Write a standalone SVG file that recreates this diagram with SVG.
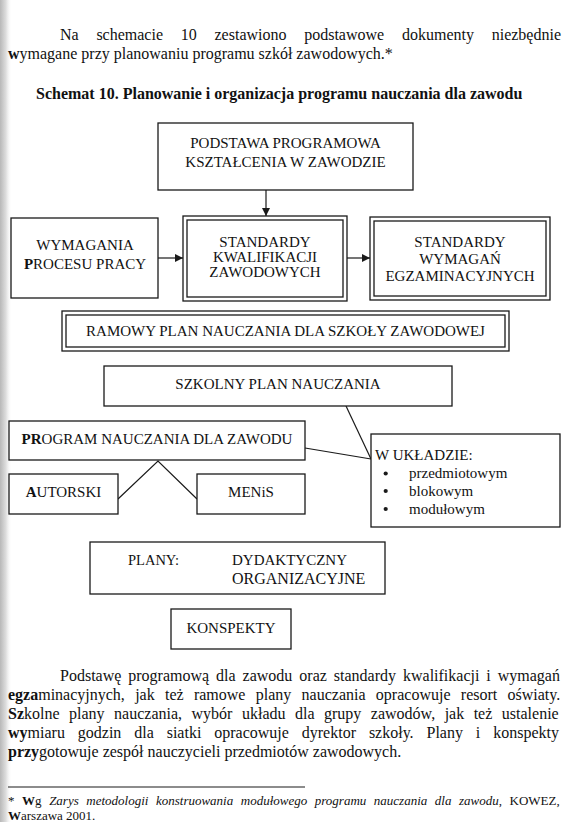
<svg xmlns="http://www.w3.org/2000/svg" width="581" height="822" viewBox="0 0 581 822">
<style>
.t{font-family:"Liberation Serif","Times New Roman",serif;fill:#111111}
.b16{font-size:16px}
.d{font-size:15px}
.c{text-anchor:middle}
.bold{font-weight:bold}
.it{font-style:italic}
.box{fill:#fff;stroke:#1a1a1a;stroke-width:1.3}
.inner{fill:none;stroke:#1a1a1a;stroke-width:1.3}
.ln{stroke:#1a1a1a;stroke-width:1.2;fill:none}
</style>
<defs>
<linearGradient id="edge" x1="0" y1="0" x2="1" y2="0">
<stop offset="0" stop-color="#b8b8b8"/>
<stop offset="0.5" stop-color="#dedede"/>
<stop offset="1" stop-color="#ffffff" stop-opacity="0"/>
</linearGradient>
<marker id="ah" markerUnits="userSpaceOnUse" markerWidth="8" markerHeight="8" refX="8" refY="4" orient="auto">
<path d="M0,0 L8,4 L0,8 z" fill="#1a1a1a"/>
</marker>
</defs>
<rect width="581" height="822" fill="#ffffff"/>
<rect x="0" y="0" width="12" height="822" fill="url(#edge)"/>

<g id="intro" class="t b16">
<text y="40"><tspan x="60">Na</tspan><tspan x="96.4">schemacie</tspan><tspan x="180.8">10</tspan><tspan x="214.5">zestawiono</tspan><tspan x="304.2">podstawowe</tspan><tspan x="402">dokumenty</tspan><tspan x="491.7">niezbędnie</tspan></text>
<text x="8" y="59"><tspan class="bold">w</tspan>ymagane przy planowaniu programu szkół zawodowych.*</text>
<text x="36" y="99" class="bold">Schemat 10. Planowanie i organizacja programu nauczania dla zawodu</text>
</g>

<g id="connectors">
<line class="ln" x1="266" y1="190" x2="266" y2="216" marker-end="url(#ah)"/>
<line class="ln" x1="158" y1="258" x2="183" y2="258" marker-end="url(#ah)"/>
<line class="ln" x1="347" y1="258" x2="370" y2="258" marker-end="url(#ah)"/>
<polyline class="ln" points="118,499 158,461 197,499"/>
<line class="ln" x1="346" y1="406" x2="371" y2="459"/>
<line class="ln" x1="305" y1="448" x2="371" y2="459"/>
</g>

<g id="podstawa">
<rect class="box" x="158" y="123" width="255" height="67"/>
<text class="t d c" x="285.5" y="148">PODSTAWA PROGRAMOWA</text>
<text class="t d c" x="285.5" y="167">KSZTAŁCENIA W ZAWODZIE</text>
</g>

<g id="wymagania">
<rect class="box" x="11" y="218" width="147" height="80"/>
<text class="t d c" x="85" y="250">WYMAGANIA</text>
<text class="t d c" x="85" y="269"><tspan class="bold">P</tspan>ROCESU PRACY</text>
</g>

<g id="standardy-kwalifikacji">
<rect class="box" x="183" y="216" width="164" height="85"/>
<rect class="inner" x="187" y="220" width="156" height="77"/>
<text class="t d c" x="265" y="247">STANDARDY</text>
<text class="t d c" x="265" y="262">KWALIFIKACJI</text>
<text class="t d c" x="265" y="277">ZAWODOWYCH</text>
</g>

<g id="standardy-wymagan">
<rect class="box" x="370" y="217" width="180" height="83"/>
<rect class="inner" x="374" y="221" width="172" height="75"/>
<text class="t d c" x="460" y="247">STANDARDY</text>
<text class="t d c" x="460" y="264">WYMAGAŃ</text>
<text class="t d c" x="460" y="281">EGZAMINACYJNYCH</text>
</g>

<g id="ramowy">
<rect class="box" x="62" y="311" width="447" height="40"/>
<rect class="inner" x="66" y="315" width="439" height="32"/>
<text class="t d c" x="285.5" y="336">RAMOWY PLAN NAUCZANIA DLA SZKOŁY ZAWODOWEJ</text>
</g>

<g id="szkolny">
<rect class="box" x="104" y="366" width="348" height="40"/>
<text class="t d c" x="278" y="389">SZKOLNY PLAN NAUCZANIA</text>
</g>

<g id="program">
<rect class="box" x="9" y="421" width="296" height="39"/>
<text class="t d c" x="157" y="444"><tspan class="bold">PR</tspan>OGRAM NAUCZANIA DLA ZAWODU</text>
</g>

<g id="autorski">
<rect class="box" x="9" y="474" width="109" height="40"/>
<text class="t d c" x="63.5" y="497"><tspan class="bold">A</tspan>UTORSKI</text>
</g>

<g id="menis">
<rect class="box" x="197" y="474" width="108" height="40"/>
<text class="t d c" x="251" y="497">MENiS</text>
</g>

<g id="uklad">
<rect class="box" x="371" y="434" width="189" height="93"/>
<text class="t d" x="375" y="460">W UKŁADZIE:</text>
<circle cx="385.7" cy="473.5" r="2.1" fill="#1a1a1a"/>
<circle cx="385.7" cy="491" r="2.1" fill="#1a1a1a"/>
<circle cx="385.7" cy="509" r="2.1" fill="#1a1a1a"/>
<text class="t d" x="409" y="478">przedmiotowym</text>
<text class="t d" x="409" y="496">blokowym</text>
<text class="t d" x="409" y="513.5">modułowym</text>
</g>

<g id="plany">
<rect class="box" x="90" y="542" width="295" height="52"/>
<text class="t" style="font-size:14.5px" x="128" y="565">PLANY:</text>
<text class="t d" x="232" y="565">DYDAKTYCZNY</text>
<text class="t" style="font-size:16px" x="232" y="584">ORGANIZACYJNE</text>
</g>

<g id="konspekty">
<rect class="box" x="171" y="609" width="120" height="40"/>
<text class="t d c" x="231" y="633">KONSPEKTY</text>
</g>

<g id="closing" class="t b16">
<text x="60" y="681" word-spacing="2.96">Podstawę programową dla zawodu oraz standardy kwalifikacji i wymagań</text>
<text x="8" y="700" word-spacing="6.3"><tspan class="bold">egza</tspan>minacyjnych, jak też ramowe plany nauczania opracowuje resort oświaty.</text>
<text x="8" y="719" word-spacing="5.5"><tspan class="bold">Sz</tspan>kolne plany nauczania, wybór układu dla grupy zawodów, jak też ustalenie</text>
<text x="8" y="738" word-spacing="8.9"><tspan class="bold">wy</tspan>miaru godzin dla siatki opracowuje dyrektor szkoły. Plany i konspekty</text>
<text x="8" y="757"><tspan class="bold">przy</tspan>gotowuje zespół nauczycieli przedmiotów zawodowych.</text>
</g>

<g id="footnote" class="t" style="font-size:13px">
<line x1="8" y1="787" x2="305" y2="787" stroke="#1a1a1a" stroke-width="1.2"/>
<text x="8" y="805" word-spacing="4.3">* <tspan class="bold">W</tspan>g <tspan class="it">Zarys metodologii konstruowania modułowego programu nauczania dla zawodu</tspan>, KOWEZ,</text>
<text x="8" y="820"><tspan class="bold">W</tspan>arszawa 2001.</text>
</g>
</svg>
